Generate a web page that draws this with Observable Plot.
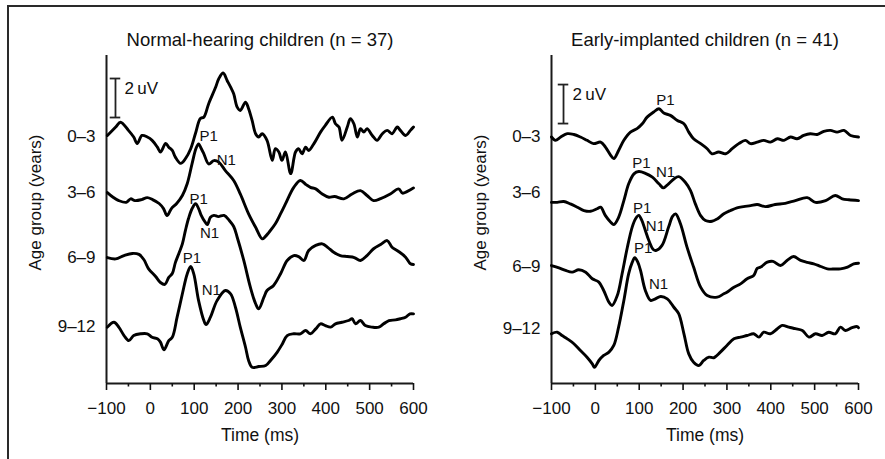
<!DOCTYPE html>
<html><head><meta charset="utf-8">
<script src="https://cdn.jsdelivr.net/npm/d3@7"></script>
<script src="https://cdn.jsdelivr.net/npm/@observablehq/plot@0.6"></script>
<style>
body{margin:0;background:#fff;}
#fig{position:relative;width:885px;height:459px;overflow:hidden;background:#fff;}
#frame{position:absolute;left:7px;top:5px;width:900px;height:480px;border:2px solid #2a2a2a;}
.panel{position:absolute;top:0;}
</style></head><body><div id="fig"><div id="frame"></div></div>
<script>
// ---- categories ----
const ageGroups = ["0–3", "3–6", "6–9", "9–12"];
const panelTitles = ["Normal-hearing children (n = 37)", "Early-implanted children (n = 41)"];
const xTicksMajor = [-100, 0, 100, 200, 300, 400, 500, 600];
const xTicksMinor = [-50, 50, 150, 250, 350, 450, 550];

// ---- baseline (µV) of each age group trace ----
const nhBaselines = [12.62, 9.74, 6.41, 2.87];
const ciBaselines = [12.62, 9.74, 5.95, 2.77];

// ---- Normal-hearing traces: [time ms, µV relative to baseline] ----
const nh_0_3 = [[-98,0.10],[-79,0.53],[-68,0.78],[-50,0.36],[-38,0.02],[-30,-0.31],[-19,0.10],[-7,0.02],[4,-0.15],[16,-0.50],[23,-0.75],[35,-0.31],[42,-0.50],[50,-0.67],[57,-1.01],[69,-1.33],[80,-1.09],[92,-0.58],[103,0.21],[114,0.97],[122,1.04],[133,1.73],[149,2.58],[156,3.01],[166,3.30],[175,2.92],[183,2.58],[190,2.24],[198,1.55],[205,1.38],[217,1.81],[224,1.47],[232,0.87],[240,0.19],[247,0.02],[255,0.19],[266,-0.15],[278,-1.18],[285,-0.58],[293,-0.75],[300,-1.18],[308,-0.75],[320,-1.86],[331,-0.75],[338,-0.58],[346,-0.84],[354,-0.50],[361,-0.67],[373,-0.32],[388,0.27],[399,0.62],[415,1.04],[422,0.70],[430,0.53],[437,-0.15],[449,0.53],[456,0.96],[464,0.70],[472,0.02],[479,0.45],[487,0.27],[494,0.45],[506,0.10],[517,-0.15],[529,0.19],[540,0.36],[551,0.19],[563,0.53],[570,0.36],[582,0.10],[593,0.36],[600,0.53]];
const nh_3_6 = [[-98,0.05],[-85,-0.19],[-72,-0.36],[-55,-0.45],[-45,-0.27],[-35,-0.36],[-20,-0.31],[-7,-0.21],[5,-0.31],[20,-0.51],[30,-0.77],[38,-1.13],[48,-0.77],[60,-0.51],[73,-0.10],[84,0.50],[95,1.52],[104,2.31],[110,2.55],[116,2.31],[122,2.04],[133,1.52],[145,1.69],[156,1.61],[171,1.18],[190,0.67],[205,-0.02],[224,-1.04],[240,-1.73],[255,-2.32],[262,-2.21],[270,-2.00],[285,-1.55],[297,-1.03],[308,-0.53],[327,0.32],[342,0.67],[355,0.46],[365,0.32],[377,0.24],[392,-0.02],[407,-0.19],[420,-0.15],[441,-0.27],[460,-0.02],[479,0.15],[494,-0.10],[509,-0.36],[525,-0.26],[547,-0.02],[566,0.24],[575,0.02],[585,0.10],[600,0.29]];
const nh_6_9 = [[-98,0.05],[-79,-0.02],[-60,0.15],[-41,0.26],[-26,0.21],[-15,-0.05],[-4,-0.53],[12,-0.92],[23,-1.23],[33,-1.33],[42,-0.97],[50,-0.77],[57,-0.21],[65,0.26],[73,0.75],[80,1.44],[87,2.05],[95,2.55],[103,2.81],[110,2.56],[116,2.21],[125,1.86],[130,1.74],[137,2.12],[145,2.21],[155,2.15],[168,2.21],[180,1.95],[190,1.64],[198,1.09],[213,-0.10],[228,-1.47],[240,-2.32],[247,-2.58],[259,-1.98],[266,-1.64],[281,-1.38],[297,-0.78],[312,-0.10],[327,0.15],[338,0.10],[350,-0.10],[361,0.41],[377,0.67],[392,0.75],[405,0.56],[418,0.32],[433,0.15],[449,0.10],[465,0.05],[479,-0.10],[494,0.15],[509,0.50],[525,0.72],[540,0.92],[551,0.58],[566,0.36],[582,0.07],[593,-0.27],[600,-0.31]];
const nh_9_12 = [[-98,0.02],[-83,0.27],[-72,0.02],[-60,-0.41],[-49,-0.67],[-38,-0.41],[-22,-0.32],[-7,-0.32],[4,-0.50],[16,-0.58],[23,-0.75],[31,-1.14],[42,-0.67],[50,-0.50],[61,0.53],[73,1.73],[84,2.75],[92,3.13],[99,2.75],[110,1.38],[122,0.36],[127,0.15],[137,0.53],[152,1.38],[171,1.90],[183,1.73],[194,1.04],[205,0.02],[217,-1.01],[224,-1.69],[232,-2.04],[247,-2.00],[263,-1.95],[274,-1.69],[289,-1.27],[301,-0.84],[312,-0.41],[327,-0.32],[342,-0.32],[354,-0.15],[365,-0.32],[377,-0.07],[388,0.19],[399,0.10],[411,0.02],[422,0.19],[437,0.27],[452,0.36],[460,0.45],[468,0.19],[479,0.36],[490,0.10],[506,0.02],[521,0.02],[532,0.19],[544,0.36],[559,0.39],[570,0.45],[582,0.53],[592,0.70],[600,0.70]];

// ---- Early-implanted traces ----
const ci_0_3 = [[-100,0.02],[-91,-0.15],[-79,0.02],[-64,0.19],[-49,0.15],[-34,0.02],[-19,-0.15],[-4,-0.32],[12,-0.24],[23,-0.50],[35,-0.92],[42,-1.09],[53,-0.67],[65,-0.15],[80,0.27],[95,0.45],[107,0.70],[118,1.04],[133,1.30],[145,1.47],[156,1.25],[171,1.13],[187,0.87],[202,0.70],[213,0.27],[224,-0.07],[240,-0.32],[255,-0.58],[266,-0.84],[281,-0.75],[297,-0.84],[312,-0.58],[327,-0.32],[342,-0.15],[354,-0.32],[369,-0.24],[384,-0.15],[399,-0.24],[415,-0.07],[430,-0.15],[445,0.02],[460,-0.07],[475,0.10],[490,0.19],[506,0.15],[521,0.31],[536,0.36],[551,0.27],[567,0.36],[582,0.10],[600,0.02]];
const ci_3_6 = [[-100,-0.45],[-87,-0.45],[-72,-0.41],[-57,-0.53],[-41,-0.70],[-26,-0.87],[-11,-0.91],[4,-0.78],[12,-0.70],[23,-1.13],[35,-1.47],[42,-1.59],[53,-1.22],[65,-0.36],[76,0.50],[88,1.01],[99,1.13],[114,1.04],[130,0.84],[145,0.50],[155,0.29],[167,0.50],[179,0.75],[190,0.87],[205,0.58],[217,0.15],[228,-0.53],[240,-1.13],[251,-1.38],[266,-1.42],[278,-1.30],[293,-1.04],[308,-0.87],[323,-0.73],[338,-0.67],[354,-0.62],[369,-0.56],[388,-0.67],[410,-0.56],[433,-0.50],[456,-0.36],[483,-0.21],[502,-0.45],[525,-0.36],[547,-0.10],[563,-0.27],[578,-0.32],[600,-0.36]];
const ci_6_9 = [[-100,0.10],[-83,-0.02],[-68,-0.15],[-53,-0.24],[-38,-0.12],[-22,-0.24],[-7,-0.58],[8,-0.75],[19,-1.18],[31,-1.78],[38,-1.95],[50,-1.44],[61,-0.32],[73,1.04],[84,2.07],[92,2.51],[99,2.67],[106,2.41],[114,1.90],[122,1.38],[132,0.92],[138,0.87],[152,1.13],[167,2.07],[176,2.62],[183,2.75],[194,2.24],[209,1.04],[224,0.02],[240,-1.01],[255,-1.44],[278,-1.52],[293,-1.35],[300,-1.27],[315,-1.03],[331,-0.84],[346,-0.58],[361,-0.41],[369,-0.05],[377,0.02],[392,0.27],[405,0.31],[422,0.10],[437,0.36],[452,0.56],[468,0.36],[483,0.26],[498,0.19],[514,0.05],[529,-0.07],[545,-0.08],[559,-0.07],[575,0.02],[589,0.19],[600,0.22]];
const ci_9_12 = [[-100,-0.22],[-87,-0.14],[-76,-0.31],[-64,-0.48],[-49,-0.73],[-34,-1.08],[-19,-1.42],[-7,-1.76],[-2,-1.94],[8,-1.59],[19,-1.33],[31,-1.16],[42,-0.82],[53,0.12],[65,1.49],[76,2.86],[84,3.44],[90,3.68],[97,3.44],[103,3.03],[114,2.00],[126,1.49],[137,1.57],[149,1.69],[164,1.57],[179,1.14],[190,0.81],[202,-0.22],[213,-1.25],[224,-1.68],[236,-1.85],[247,-1.59],[259,-1.42],[270,-1.45],[285,-1.16],[300,-0.82],[316,-0.48],[331,-0.39],[346,-0.31],[361,-0.22],[373,-0.39],[384,-0.14],[399,-0.22],[415,0.04],[426,0.21],[441,0.12],[456,0.04],[472,-0.05],[487,-0.39],[502,-0.22],[517,-0.31],[532,-0.14],[547,-0.22],[559,0.12],[570,-0.05],[585,0.09],[597,0.15],[600,0.09]];

// ---- peak labels: [label, age-group index, time ms, µV relative to baseline] ----
const nhPeaks = [["P1",1,133,2.92],["N1",1,173,1.69],["P1",2,110,3.03],["N1",2,135,1.28],["P1",3,95,3.56],["N1",3,139,1.90]];
const ciPeaks = [["P1",0,160,1.90],["P1",1,105,1.56],["N1",1,160,1.09],["P1",2,107,3.03],["N1",2,137,2.10],["P1",3,109,4.15],["N1",3,144,2.31]];

// ---- 2 µV scale bars: [time ms, bottom µV, length µV] ----
const nhScaleBar = [-79.5, 13.64, 2];
const ciScaleBar = [-72.6, 13.33, 2];

const FONT = "'Liberation Sans', Arial, Helvetica, sans-serif";
const fmtX = d => d < 0 ? "\u2212" + Math.abs(d) : String(d);

function panel({title, traces, baselines, peaks, bar, mLeft, mRight}) {
  const lineData = traces.flatMap((tr, i) => tr.map(([t, v]) => ({group: ageGroups[i], t, y: baselines[i] + v})));
  const peakData = peaks.map(([label, gi, t, v]) => ({label, t, y: baselines[gi] + v}));
  const [bt, b0, bl] = bar;
  return Plot.plot({
    width: 442, height: 459,
    marginLeft: mLeft, marginRight: mRight, marginTop: 55, marginBottom: 76,
    x: {domain: [-100, 600]},
    y: {domain: [0, 16.82]},
    style: {fontFamily: FONT, fontSize: "17px", color: "#111", background: "transparent", overflow: "visible"},
    marks: [
      Plot.ruleX([-100], {stroke: "#1a1a1a", strokeWidth: 2}),
      Plot.ruleY([0], {stroke: "#1a1a1a", strokeWidth: 2}),
      Plot.axisX({ticks: xTicksMajor, tickSize: 7, tickPadding: 11, tickFormat: fmtX, label: null, strokeWidth: 1.6, fill: "#111"}),
      Plot.axisX({ticks: xTicksMinor, tickSize: 3.5, tickFormat: () => "", label: null, strokeWidth: 1.6}),
      Plot.axisY({ticks: baselines, tickFormat: d => ageGroups[baselines.indexOf(d)], tickSize: 0, tickPadding: 11, label: null, fill: "#111", dy: -1}),
      Plot.line(lineData, {x: "t", y: "y", z: "group", curve: "catmull-rom", stroke: "#000", strokeWidth: 2.9, strokeLinejoin: "round", strokeLinecap: "round"}),
      Plot.text(peakData, {x: "t", y: "y", text: "label", fontSize: 15, fill: "#111"}),
      Plot.ruleX([bt], {y1: b0, y2: b0 + bl, stroke: "#222", strokeWidth: 1.8}),
      Plot.ruleY([b0, b0 + bl], {x1: bt - 12, x2: bt + 12, stroke: "#222", strokeWidth: 1.8}),
      Plot.text([bl + "\u2009uV"], {x: bt + 20.5, y: b0 + 0.98 * bl / 2 + 0.5, textAnchor: "start", fontSize: 17, fill: "#111"}),
      Plot.text([title], {frameAnchor: "top", dy: -23, textAnchor: "middle", fontSize: 18.5, fill: "#111"}),
      Plot.text(["Time (ms)"], {frameAnchor: "bottom", dy: 57, textAnchor: "middle", fontSize: 17.5, fill: "#111"}),
      Plot.text(["Age group (years)"], {frameAnchor: "left", dx: -71, dy: -17, rotate: -90, textAnchor: "middle", lineAnchor: "middle", fontSize: 17, fill: "#111"})
    ]
  });
}

const fig = document.getElementById("fig");
const left = panel({title: panelTitles[0], traces: [nh_0_3, nh_3_6, nh_6_9, nh_9_12], baselines: nhBaselines, peaks: nhPeaks, bar: nhScaleBar, mLeft: 106, mRight: 29});
left.classList.add("panel"); left.style.left = "0px";
fig.appendChild(left);
const right = panel({title: panelTitles[1], traces: [ci_0_3, ci_3_6, ci_6_9, ci_9_12], baselines: ciBaselines, peaks: ciPeaks, bar: ciScaleBar, mLeft: 108, mRight: 27});
right.classList.add("panel"); right.style.left = "443px";
fig.appendChild(right);
</script>
</body></html>
